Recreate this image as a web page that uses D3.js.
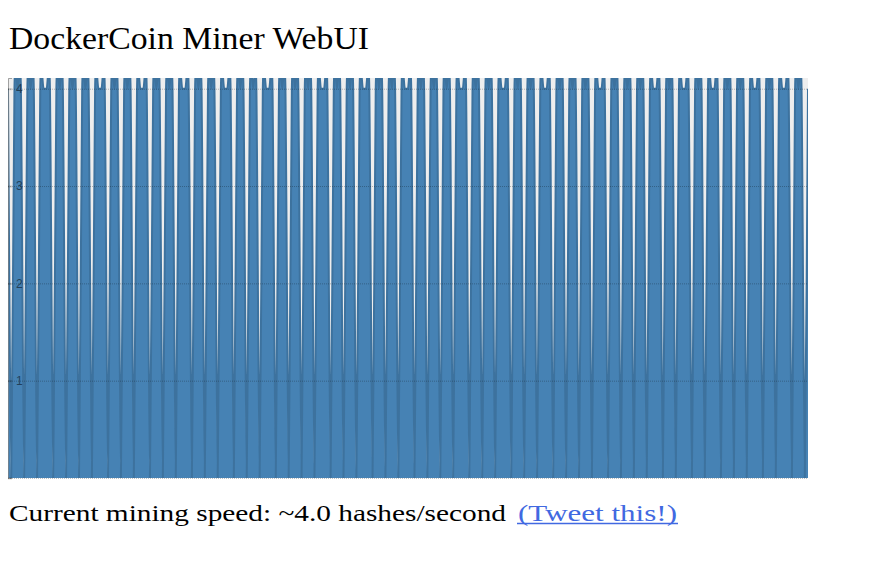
<!DOCTYPE html>
<html><head><meta charset="utf-8">
<script src="https://cdn.jsdelivr.net/npm/d3@7"></script>
<style>html,body{margin:0;padding:0;background:#fff;} svg{display:block}</style>
</head><body><svg id="c" width="889" height="580"></svg>
<script>
// ---- data ----
const titleText = "DockerCoin Miner WebUI";
const speedLabel = "Current mining speed: ~4.0 hashes/second";
const linkLabel = "(Tweet this!)";
const yTickValues = [0, 1, 2, 3, 4];
const yTickLabels = ["", "1", "2", "3", "4"];
const yMax = 4.11;
// instantaneous speed (hashes/second), one sample per second, 249 samples
const speeds = [
  4,0,4,4,4,0,4,4,4,0,4,4,4,4,0,4,4,4,0,4,
  4,4,0,4,4,4,0,4,4,4,4,0,4,4,4,0,4,4,4,0,
  4,4,4,4,0,4,4,4,0,4,4,4,0,4,4,4,4,0,4,4,
  4,0,4,4,4,0,4,4,4,4,0,4,4,4,0,4,4,4,0,4,
  4,4,4,0,4,4,4,0,4,4,4,0,4,4,4,0,4,4,4,4,
  0,4,4,4,0,4,4,4,0,4,4,4,4,0,4,4,4,0,4,4,
  4,0,4,4,4,4,0,4,4,4,0,4,4,4,0,4,4,4,0,4,
  4,4,4,0,4,4,4,0,4,4,4,0,4,4,4,4,0,4,4,4,
  0,4,4,4,0,4,4,4,4,0,4,4,4,0,4,4,4,0,4,4,
  4,0,4,4,4,4,0,4,4,4,0,4,4,4,0,4,4,4,0,4,
  4,4,4,0,4,4,4,0,4,4,4,4,0,4,4,4,0,4,4,4,
  4,0,4,4,4,0,4,4,4,0,4,4,4,4,0,4,4,4,0,4,
  4,4,4,0,4,4,4,0,4
];

const svg = d3.select("#c");
const G = {x: 8, y: 78, w: 800, h: 400};
const SERIF = "'Liberation Serif', 'DejaVu Serif', serif";

function fitText(str, x0, yb, fs, len, color) {
  return svg.append("text")
    .attr("x", x0).attr("y", yb)
    .attr("font-family", SERIF).attr("font-size", fs)
    .attr("textLength", len).attr("lengthAdjust", "spacingAndGlyphs")
    .attr("fill", color)
    .text(str);
}

// title
fitText(titleText, 9, 49, 32, 360, "#000");

// chart
const g = svg.append("g").attr("transform", `translate(${G.x},${G.y})`);
svg.append("defs").append("clipPath").attr("id", "clip")
  .append("rect").attr("width", G.w).attr("height", G.h);
g.append("rect").attr("width", G.w).attr("height", G.h).attr("fill", "#eeeeee");

const x = d3.scaleLinear().domain([0, speeds.length - 1]).range([0, G.w]);
const y = d3.scaleLinear().domain([0, yMax]).range([G.h, 0]);
const curve = d3.curveCardinal.tension(0.3);

const plot = g.append("g").attr("clip-path", "url(#clip)");
plot.append("path").datum(speeds)
  .attr("d", d3.area().x((d, i) => x(i)).y0(y(0)).y1(d => y(d)).curve(curve))
  .attr("fill", "steelblue");
plot.append("path").datum(speeds)
  .attr("d", d3.line().x((d, i) => x(i)).y(d => y(d)).curve(curve))
  .attr("fill", "none")
  .attr("stroke", d3.interpolateRgb("steelblue", "black")(0.125))
  .attr("stroke-width", 2);

// y ticks (inside, like Rickshaw)
const yAxis = g.append("g")
  .call(d3.axisRight(y).tickValues(yTickValues).tickSize(4).tickFormat((d, i) => yTickLabels[i]));
yAxis.select(".domain").attr("stroke", "#808080").attr("stroke-opacity", 0.7);
yAxis.selectAll(".tick line").attr("stroke", "rgba(0,0,0,0.16)").attr("stroke-width", 2);
yAxis.selectAll(".tick text")
  .attr("x", 8)
  .attr("font-family", "'Liberation Sans', Arial, sans-serif")
  .attr("font-size", 12).attr("fill", "#000").attr("opacity", 0.5);

// y grid
const yGrid = g.append("g")
  .call(d3.axisRight(y).tickValues(yTickValues).tickSize(G.w).tickFormat(""));
yGrid.select(".domain").remove();
yGrid.selectAll(".tick line")
  .attr("stroke", "rgba(0,0,0,0.25)").attr("stroke-width", 1).attr("stroke-dasharray", "1 1");

// speed text + link
fitText(speedLabel, 9, 521, 24, 497, "#000");
fitText(linkLabel, 518, 521, 24, 159, "royalblue");
svg.append("line")
  .attr("x1", 517).attr("x2", 678).attr("y1", 523.5).attr("y2", 523.5)
  .attr("stroke", "royalblue").attr("stroke-width", 1.3);
</script>
</body></html>
